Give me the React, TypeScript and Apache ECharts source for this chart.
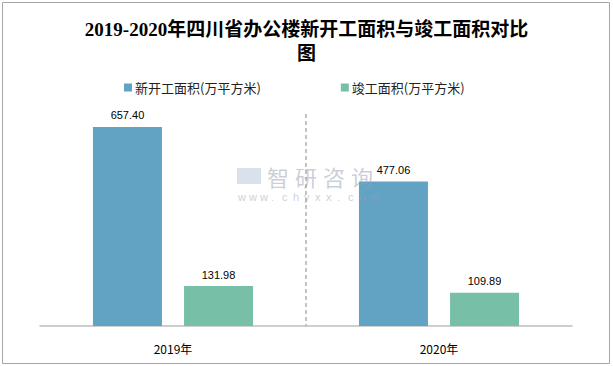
import React, { useEffect, useRef } from "react";
import * as echarts from "echarts";

const categories = ["2019年", "2020年"];
const seriesNames = ["新开工面积(万平方米)", "竣工面积(万平方米)"];
const newStarts = [657.4, 477.06];
const completed = [131.98, 109.89];

export default function App() {
  const ref = useRef<HTMLDivElement>(null);
  useEffect(() => {
    document.body.style.margin = "0";
    const chart = echarts.init(ref.current!, null, { renderer: "svg" });
    const labelStyle = {
      show: true,
      position: "top" as const,
      color: "#000",
      fontSize: 11,
      fontFamily: "Liberation Sans, Arial, sans-serif",
      distance: 6,
      formatter: (p: any) => Number(p.value).toFixed(2),
    };
    const wm = "rgba(150,160,175,0.5)";
    chart.setOption({
      animation: false,
      backgroundColor: "#fff",
      title: {
        text: "2019-2020年四川省办公楼新开工面积与竣工面积对比\n图",
        left: "center",
        top: 12,
        textStyle: {
          fontSize: 19,
          fontWeight: "bold",
          color: "#000",
          fontFamily: "Liberation Serif, 'Noto Sans CJK SC', serif",
          lineHeight: 24,
        },
      },
      legend: {
        top: 76,
        left: 119,
        itemWidth: 8,
        itemHeight: 8,
        itemGap: 80,
        icon: "rect",
        textStyle: { fontSize: 13, color: "#222", fontFamily: "'Noto Sans CJK SC', sans-serif", padding: [0, 0, 0, -2] },
        data: seriesNames,
      },
      grid: { left: 40, right: 41, top: 114, bottom: 40 },
      xAxis: {
        type: "category",
        data: categories,
        axisLine: { lineStyle: { color: "#bfbfbf", width: 1.5 } },
        axisTick: { show: false },
        axisLabel: { color: "#000", fontSize: 12, margin: 16, fontFamily: "'Noto Sans CJK SC', sans-serif" },
        splitLine: { show: false },
      },
      yAxis: { type: "value", min: 0, max: 700, show: false, splitLine: { show: false } },
      series: [
        {
          name: seriesNames[0],
          type: "bar",
          data: newStarts,
          barWidth: 69,
          barGap: "32%",
          itemStyle: { color: "#62a3c4" },
          label: labelStyle,
          z: 3,
        },
        {
          name: seriesNames[1],
          type: "bar",
          data: completed,
          barWidth: 69,
          itemStyle: { color: "#77bfa6" },
          label: labelStyle,
          z: 3,
        },
      ],
    });
    const x0 = chart.convertToPixel({ xAxisIndex: 0 }, categories[0]) as number;
    const x1 = chart.convertToPixel({ xAxisIndex: 0 }, categories[1]) as number;
    const yTop = chart.convertToPixel({ yAxisIndex: 0 }, 700) as number;
    const yBot = chart.convertToPixel({ yAxisIndex: 0 }, 0) as number;
    const xm = (x0 + x1) / 2;
    const cn = "智研咨询".split("").map((c, i) => ({
      type: "text",
      x: 267 + i * 28,
      y: 165,
      style: { text: c, fontSize: 22, lineHeight: 22, fill: wm, fontFamily: "'Noto Sans CJK SC', sans-serif" },
      silent: true,
      z: 10,
    }));
    const url = "www.chyxx.com".split("").map((c, i) => ({
      type: "text",
      x: 238 + i * 11,
      y: 191,
      style: { text: c, fontSize: 11, lineHeight: 11, fill: wm, fontFamily: "Liberation Sans, sans-serif" },
      silent: true,
      z: 10,
    }));
    chart.setOption({
      graphic: [
        {
          type: "rect",
          shape: { x: 2.5, y: 2.5, width: 607, height: 361 },
          style: { fill: "none", stroke: "#a6a6a6", lineWidth: 1 },
          silent: true,
        },
        {
          type: "line",
          shape: { x1: xm, y1: yTop, x2: xm, y2: yBot },
          style: { stroke: "#b0b0b0", lineWidth: 1.5, lineDash: [4, 3] },
          silent: true,
          z: 1,
        },
        ...cn,
        ...url,
        {
          type: "rect",
          shape: { x: 237, y: 168, width: 24, height: 16 },
          style: { fill: "rgba(150,165,200,0.35)" },
          silent: true,
          z: 10,
        },
      ],
    });
    return () => chart.dispose();
  }, []);
  return <div ref={ref} style={{ width: 613, height: 366 }} />;
}
